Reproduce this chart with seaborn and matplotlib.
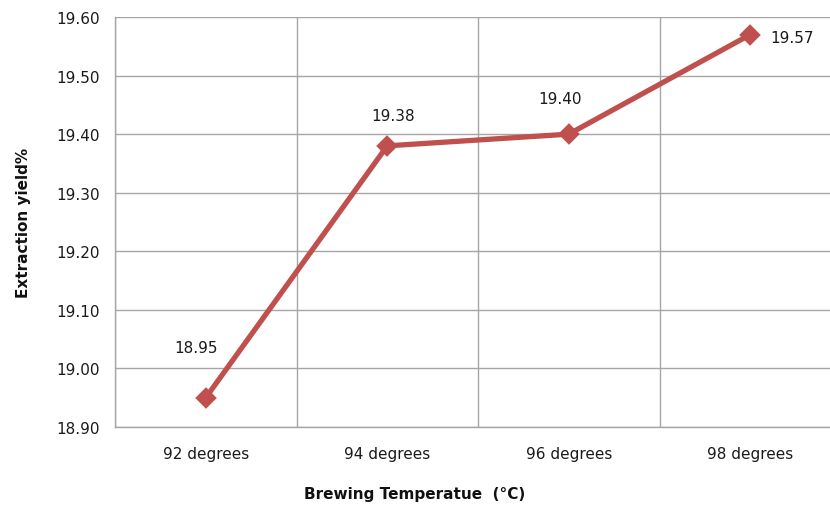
import matplotlib
matplotlib.use("Agg")
import matplotlib.pyplot as plt
from matplotlib.ticker import FixedLocator, MultipleLocator
import seaborn as sns
import pandas as pd

categories = ["92 degrees", "94 degrees", "96 degrees", "98 degrees"]
yields = [18.95, 19.38, 19.40, 19.57]
# label offsets (pixels) for the value labels
label_offsets = [(-10, 50), (6, 30), (-9, 36), (42, -3)]

sns.set_theme(style="white")
plt.rcParams["font.family"] = ["DejaVu Sans"]

df = pd.DataFrame({"temp": categories, "yield": yields})

fig = plt.figure(figsize=(8.3, 5.06), dpi=100)
ax = fig.add_axes([115 / 830, 1 - 428 / 506, (841 - 115) / 830, (428 - 18) / 506])

line_color = "#c0504d"
sns.pointplot(data=df, x="temp", y="yield", ax=ax, color=line_color,
              markers="D", linestyles="-", errorbar=None, markersize=8,
              linewidth=3.8)

ax.set_xlim(-0.5, 3.5)
ax.set_ylim(18.90, 19.60)
ax.yaxis.set_major_locator(MultipleLocator(0.10))
ax.yaxis.set_major_formatter(matplotlib.ticker.FormatStrFormatter("%.2f"))

grid_color = "#a6a6a6"
ax.xaxis.set_minor_locator(FixedLocator([-0.5, 0.5, 1.5, 2.5, 3.5]))
ax.grid(False)
ax.yaxis.grid(True, which="major", color=grid_color, linewidth=1)
ax.xaxis.grid(True, which="minor", color=grid_color, linewidth=1)
ax.set_axisbelow(True)

for side in ["top", "right"]:
    ax.spines[side].set_visible(False)
for side in ["left", "bottom"]:
    ax.spines[side].set_color(grid_color)
    ax.spines[side].set_linewidth(1)

ax.tick_params(axis="both", which="both", length=0, labelsize=11,
               labelcolor="#1a1a1a")
ax.tick_params(axis="y", pad=11)
ax.tick_params(axis="x", pad=14)

ax.set_xlabel("Brewing Temperatue  (°C)", fontsize=11, fontweight="bold",
              color="#111111")
ax.xaxis.set_label_coords(0.413, -0.145)
ax.set_ylabel("Extraction yield%", fontsize=11, fontweight="bold",
              color="#111111", labelpad=18)

for i, (v, (dx, dy)) in enumerate(zip(yields, label_offsets)):
    ax.annotate(f"{v:.2f}", xy=(i, v), xytext=(dx, dy),
                textcoords="offset pixels", ha="center", va="center",
                fontsize=11, color="#1a1a1a")

fig.savefig("out.png", dpi=100)
